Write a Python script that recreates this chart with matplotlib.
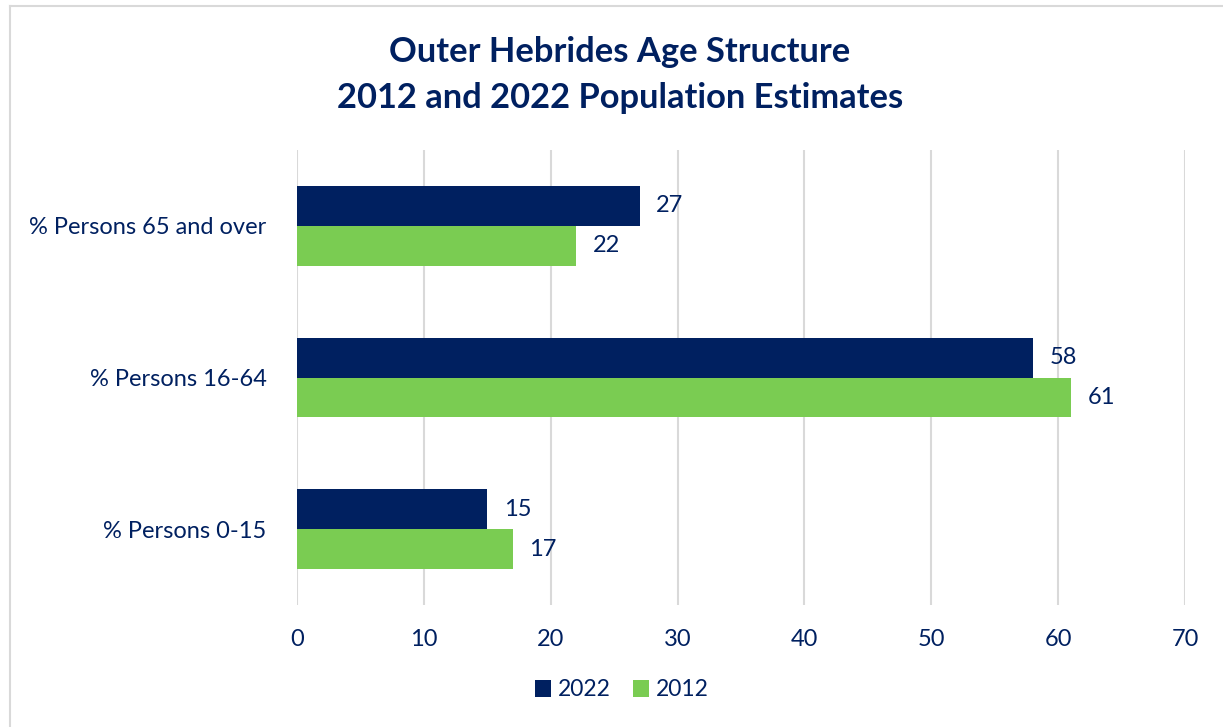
import numpy as np
import matplotlib.pyplot as plt
from matplotlib.lines import Line2D

categories = ["% Persons 0-15", "% Persons 16-64", "% Persons 65 and over"]
series_2022 = [15, 58, 27]
series_2012 = [17, 61, 22]

navy = "#002060"
green = "#7ACC52"
grid = "#D9D9D9"

plt.rcParams['font.family'] = ['Lato', 'DejaVu Sans']

fig = plt.figure(figsize=(12.23, 7.27), dpi=100)
ax = fig.add_axes([297 / 1223, 1 - 605 / 727, (1185 - 297) / 1223, 455 / 727])

y = np.arange(len(categories))
h = 0.262
b1 = ax.barh(y + h / 2, series_2022, height=h, color=navy, label="2022", zorder=3)
b2 = ax.barh(y - h / 2, series_2012, height=h, color=green, label="2012", zorder=3)
for bars in (b1, b2):
    ax.bar_label(bars, padding=12, color=navy, fontsize=17)

ax.set_xlim(0, 70)
ax.set_ylim(-0.5, 2.5)
ax.set_xticks(range(0, 71, 10))
ax.set_yticks(y)
ax.set_yticklabels(categories)
ax.tick_params(length=0, labelcolor=navy, labelsize=17)
ax.tick_params(axis='x', pad=17)
ax.tick_params(axis='y', pad=22)
ax.grid(axis='x', color=grid, linewidth=1.5, zorder=0)
for s in ax.spines.values():
    s.set_visible(False)

fig.text(0.507, 1 - 75 / 727, "Outer Hebrides Age Structure\n2012 and 2022 Population Estimates",
         ha='center', va='center', fontsize=24.8, fontweight='bold', color=navy, linespacing=1.5)

ax.legend(loc='center', bbox_to_anchor=(622 / 1223, 1 - 690 / 727), bbox_transform=fig.transFigure,
          ncol=2, frameon=False, fontsize=16.5, labelcolor=navy, handlelength=0.7, handleheight=0.7,
          handletextpad=0.3, columnspacing=1.0)

# chart border (top and left visible)
fig.add_artist(Line2D([10 / 1223, 10 / 1223], [0, 1 - 6 / 727], color=grid, linewidth=1.5))
fig.add_artist(Line2D([10 / 1223, 1], [1 - 6 / 727, 1 - 6 / 727], color=grid, linewidth=1.5))

fig.savefig("out.png", dpi=100)
